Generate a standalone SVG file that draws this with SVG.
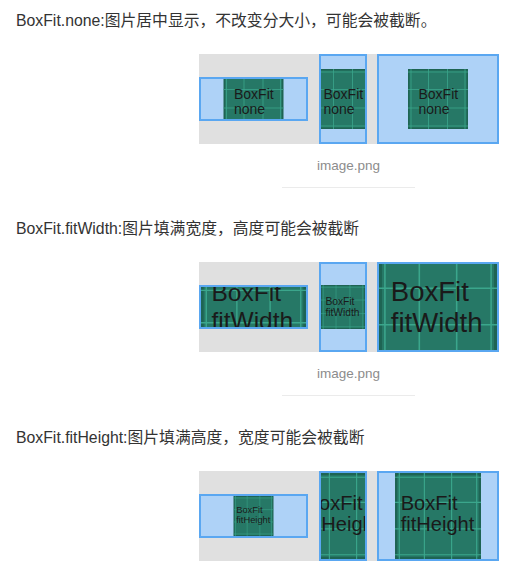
<svg xmlns="http://www.w3.org/2000/svg" xmlns:xlink="http://www.w3.org/1999/xlink" width="522" height="570" viewBox="0 0 522 570">
<style>
.title{font-family:"Liberation Sans","Noto Sans CJK SC",sans-serif;font-size:15.8px;fill:#333}
.cap{font-family:"Liberation Sans",sans-serif;font-size:13.5px;fill:#8c8c8c;text-anchor:middle}
.imgt{font-family:"Liberation Sans",sans-serif;font-size:14px;fill:#1a1a1a}
.bg{fill:#e0e0e0}
.box{fill:#aed2f7;stroke:#5aa7f1;stroke-width:2}
.frame{fill:none;stroke:#5aa7f1;stroke-width:2}
.grid{stroke:#3ba68c;stroke-width:0.8;fill:none}
.sep{stroke:#ebebeb;stroke-width:1}
</style>
<defs>
<g id="imgbase">
<rect x="0" y="0" width="60" height="60" fill="#1e6453"/>
<rect x="1.5" y="1.5" width="57" height="57" fill="#267866"/>
<path class="grid" d="M3 0V60M20.5 0V60M39.5 0V60M57 0V60M0 3H60M0 20.5H60M0 39H60M0 57H60"/>
</g>
<g id="img-none"><use href="#imgbase"/><text class="imgt" x="10.5" y="30">BoxFit</text><text class="imgt" x="10.5" y="45">none</text></g>
<g id="img-fitWidth"><use href="#imgbase"/><text class="imgt" x="6" y="26.8">BoxFit</text><text class="imgt" x="6" y="42.5">fitWidth</text></g>
<g id="img-fitHeight"><use href="#imgbase"/><text class="imgt" x="4" y="25.5">BoxFit</text><text class="imgt" x="4" y="40.5">fitHeight</text></g>
<clipPath id="c11"><rect x="201" y="79" width="105" height="40"/></clipPath>
<clipPath id="c12"><rect x="321" y="56" width="44" height="86"/></clipPath>
<clipPath id="c13"><rect x="379" y="56" width="118" height="86"/></clipPath>
<clipPath id="c21"><rect x="201" y="287" width="105" height="40"/></clipPath>
<clipPath id="c22"><rect x="321" y="264" width="44" height="86"/></clipPath>
<clipPath id="c23"><rect x="379" y="264" width="118" height="86"/></clipPath>
<clipPath id="c31"><rect x="201" y="496" width="105" height="40"/></clipPath>
<clipPath id="c32"><rect x="321" y="473" width="44" height="86"/></clipPath>
<clipPath id="c33"><rect x="379" y="473" width="118" height="86"/></clipPath>
</defs>

<g id="connectors"/>

<g id="row-none">
<text class="title" x="16" y="25.5">BoxFit.none:图片居中显示，不改变分大小，可能会被截断。</text>
<rect class="bg" x="199" y="54" width="178" height="90"/>
<g id="none-1">
<rect class="box" x="200" y="78" width="107" height="42"/>
<g clip-path="url(#c11)"><use href="#img-none" transform="translate(223.5,69)"/></g>
<rect class="frame" x="200" y="78" width="107" height="42"/>
</g>
<g id="none-2">
<rect class="box" x="320" y="55" width="46" height="88"/>
<g clip-path="url(#c12)"><use href="#img-none" transform="translate(313,69)"/></g>
<rect class="frame" x="320" y="55" width="46" height="88"/>
</g>
<g id="none-3">
<rect class="box" x="378" y="55" width="120" height="88"/>
<g clip-path="url(#c13)"><use href="#img-none" transform="translate(408,69)"/></g>
<rect class="frame" x="378" y="55" width="120" height="88"/>
</g>
<text class="cap" x="348.5" y="170">image.png</text>
<line class="sep" x1="282" y1="187.5" x2="415" y2="187.5"/>
</g>

<g id="row-fitWidth">
<text class="title" x="16" y="233.5">BoxFit.fitWidth:图片填满宽度，高度可能会被截断</text>
<rect class="bg" x="199" y="262" width="178" height="90"/>
<g id="fitWidth-1">
<rect class="box" x="200" y="286" width="107" height="42"/>
<g clip-path="url(#c21)"><use href="#img-fitWidth" transform="translate(201,254.5) scale(1.75)"/></g>
<rect class="frame" x="200" y="286" width="107" height="42"/>
</g>
<g id="fitWidth-2">
<rect class="box" x="320" y="263" width="46" height="88"/>
<g clip-path="url(#c22)"><use href="#img-fitWidth" transform="translate(321,285) scale(0.73333)"/></g>
<rect class="frame" x="320" y="263" width="46" height="88"/>
</g>
<g id="fitWidth-3">
<rect class="box" x="378" y="263" width="120" height="88"/>
<g clip-path="url(#c23)"><use href="#img-fitWidth" transform="translate(379,248) scale(1.96667)"/></g>
<rect class="frame" x="378" y="263" width="120" height="88"/>
</g>
<text class="cap" x="348.5" y="378">image.png</text>
<line class="sep" x1="282" y1="395.5" x2="415" y2="395.5"/>
</g>

<g id="row-fitHeight">
<text class="title" x="16" y="442.5">BoxFit.fitHeight:图片填满高度，宽度可能会被截断</text>
<rect class="bg" x="199" y="471" width="178" height="90"/>
<g id="fitHeight-1">
<rect class="box" x="200" y="495" width="107" height="42"/>
<g clip-path="url(#c31)"><use href="#img-fitHeight" transform="translate(233.5,496) scale(0.66667)"/></g>
<rect class="frame" x="200" y="495" width="107" height="42"/>
</g>
<g id="fitHeight-2">
<rect class="box" x="320" y="472" width="46" height="88"/>
<g clip-path="url(#c32)"><use href="#img-fitHeight" transform="translate(300,473) scale(1.43333)"/></g>
<rect class="frame" x="320" y="472" width="46" height="88"/>
</g>
<g id="fitHeight-3">
<rect class="box" x="378" y="472" width="120" height="88"/>
<g clip-path="url(#c33)"><use href="#img-fitHeight" transform="translate(395,473) scale(1.43333)"/></g>
<rect class="frame" x="378" y="472" width="120" height="88"/>
</g>
</g>
</svg>
